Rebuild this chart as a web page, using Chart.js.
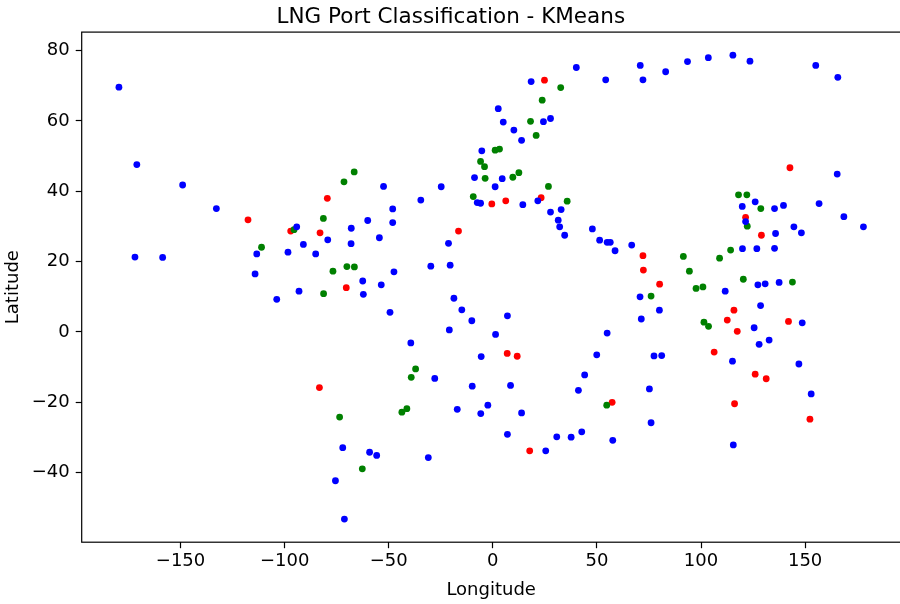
<!DOCTYPE html>
<html>
<head>
<meta charset="utf-8">
<script src="https://cdn.jsdelivr.net/npm/chart.js@4.4.1/dist/chart.umd.min.js"></script>
<style>
    html, body { margin: 0; padding: 0; background: #fff; overflow: hidden; }
    #chart { display: block; }
</style>
</head>
<body>
<canvas id="chart" width="904" height="604" style="width:904px;height:604px"></canvas>
<script>
// cluster 0 (blue)
const blueLon = [-179.6, -171.0, -149.0, -132.8, 40.1, 18.4, 54.2, 2.6, 5.0, 24.3, 27.7, 10.1, 13.8, -5.3, -8.8, 4.5, -52.5, -24.8, 1.1, -34.6,
    -7.5, -5.9, 14.4, 21.6, -48.1, 27.7, 32.8, 70.8, 72.1, 83.0, 93.5, 103.5, 115.3, 123.5, 155.1, 165.7, 165.4, 126.0, 119.8, 135.3,
    139.6, 156.7, -94.2, -68.0, -79.3, -68.1, -91.0, -113.4, -98.4, -85.1, -171.9, -158.6, -114.2, -93.1, -103.8, -48.1, -60.1, 31.4, 32.1, 34.5,
    -54.5, -21.3, 47.8, 51.3, 54.9, 56.4, 58.7, 66.7, -29.8, -20.5, -47.5, -62.5, -53.6, -62.2, -18.7, -14.9, -49.4, -10.1, 7.0, -20.9,
    1.3, 54.9, -39.4, -5.6, 49.9, 44.1, 168.6, 178.0, 121.4, 135.8, 144.6, 148.2, 119.9, 126.8, 135.3, 111.6, 127.3, 130.8, 137.5, 70.7,
    80.0, 128.6, 148.6, 71.3, 125.5, 132.7, 127.9, 77.4, 81.1, 115.1, 147.0, -72.1, -75.6, -71.3, -27.9, -9.9, 8.5, 41.1, -17.1, -5.8,
    -2.4, 13.8, 7.0, -59.2, -55.8, -31.0, 25.4, 30.7, 37.6, 42.7, 57.6, 75.2, 152.9, 76.0, 115.5];
const blueLat = [69.6, 47.6, 41.8, 35.1, 75.2, 71.2, 71.7, 63.5, 59.7, 59.8, 60.7, 57.4, 54.5, 51.5, 43.9, 43.6, 41.4, 41.3, 41.3, 37.5,
    36.8, 36.6, 36.2, 37.3, 35.0, 34.1, 34.8, 75.8, 71.7, 74.0, 76.9, 78.0, 78.7, 77.0, 75.8, 72.4, 44.9, 37.0, 35.7, 35.1,
    36.0, 36.5, 29.9, 29.5, 26.2, 25.1, 24.9, 22.2, 22.7, 22.2, 21.3, 21.2, 16.5, 11.6, 9.3, 31.1, 31.7, 31.8, 29.9, 27.5,
    26.8, 25.2, 29.3, 26.1, 25.5, 25.5, 23.1, 24.7, 18.7, 19.0, 17.1, 14.5, 13.4, 10.7, 9.6, 6.3, 5.6, 3.2, 4.6, 0.6,
    -0.7, -0.3, -3.1, -7.0, -6.5, -12.2, 32.8, 29.9, 31.4, 28.0, 29.9, 28.2, 23.7, 23.7, 23.8, 11.6, 13.4, 13.7, 14.1, 10.0,
    6.2, 7.5, 2.6, 3.7, 1.2, -2.3, -3.5, -6.8, -6.7, -8.3, -9.1, -32.9, -42.3, -53.2, -13.2, -15.4, -15.2, -16.6, -22.0, -23.2,
    -20.8, -23.0, -29.1, -34.2, -35.1, -35.7, -33.8, -29.8, -29.9, -28.4, -30.8, -16.2, -17.6, -25.8, -32.1];

// cluster 1 (green)
const greenLon = [-71.5, -66.6, 32.6, 23.7, 18.1, 20.8, 1.1, 3.2, -5.9, -4.0, -3.7, 9.6, 12.5, 26.7, -9.4, 35.7, 118.0, 122.0, 128.7, -81.4,
    -95.5, -111.1, -76.8, -70.1, -66.5, -81.3, 122.2, 114.2, 108.9, 91.5, 94.4, 97.6, 100.9, 120.3, 143.9, 76.0, 101.4, 103.6, -37.1, -39.2,
    54.7, -43.7, -41.3, -62.7, -73.6];
const greenLat = [42.7, 45.5, 69.5, 65.9, 59.9, 55.9, 51.7, 52.0, 48.5, 47.0, 43.7, 44.0, 45.3, 41.4, 38.5, 37.2, 39.0, 39.0, 35.1, 32.3,
    29.1, 24.1, 17.3, 18.6, 18.5, 10.9, 30.1, 23.3, 21.0, 21.5, 17.3, 12.4, 12.8, 15.0, 14.2, 10.2, 2.8, 1.6, -10.5, -12.9,
    -20.8, -22.8, -21.8, -38.9, -24.2];

// cluster 2 (red)
const redLon = [-79.5, 24.8, -0.5, 6.2, 23.2, 142.7, -117.6, -97.1, -83.0, -70.4, -16.5, 6.9, 11.7, 121.4, 129.0, 72.1, 72.3, 80.1, 115.8, 112.6,
    142.0, 117.4, 106.3, 126.0, 131.3, -83.3, 57.3, 17.7, 116.1, 152.3];
const redLat = [38.0, 71.6, 36.4, 37.3, 38.2, 46.7, 31.9, 28.7, 28.2, 12.6, 28.7, -6.1, -6.9, 32.6, 27.5, 21.7, 17.6, 13.6, 6.2, 3.4,
    3.0, 0.2, -5.7, -12.0, -13.3, -15.8, -20.0, -33.8, -20.4, -24.8];

const xTicks = [-150, -100, -50, 0, 50, 100, 150];
const yTicks = [-40, -20, 0, 20, 40, 60, 80];

function toPoints(lons, lats) {
    return lons.map((lon, i) => ({ x: lon, y: lats[i] }));
}

function fmt(v) {
    return v < 0 ? '\u2212' + Math.abs(v) : String(v);
}

const frame = {
    id: 'frame',
    afterDraw(chart) {
        const { ctx, chartArea: a } = chart;
        ctx.save();
        ctx.strokeStyle = '#000';
        ctx.lineWidth = 1.2;
        ctx.strokeRect(a.left, a.top, a.right - a.left, a.bottom - a.top);
        ctx.restore();
    }
};

Chart.defaults.font.family = '"DejaVu Sans", sans-serif';
Chart.defaults.color = '#000';

const dot = { pointRadius: 3.4, pointHoverRadius: 3.4, borderWidth: 0 };

new Chart(document.getElementById('chart'), {
    type: 'scatter',
    data: {
        datasets: [
            { data: toPoints(blueLon, blueLat), backgroundColor: '#0000ff', ...dot },
            { data: toPoints(greenLon, greenLat), backgroundColor: '#008000', ...dot },
            { data: toPoints(redLon, redLat), backgroundColor: '#ff0000', ...dot }
        ]
    },
    options: {
        responsive: false,
        animation: false,
        layout: { padding: { left: 0, right: 2.4, top: 0, bottom: 0 } },
        plugins: {
            legend: { display: false },
            tooltip: { enabled: false },
            title: {
                display: true,
                text: 'LNG Port Classification - KMeans',
                font: { size: 21.5, weight: 'normal' },
                padding: { top: 5, bottom: 1.3 }
            }
        },
        scales: {
            x: {
                type: 'linear',
                min: -197.48,
                max: 195.85,
                afterBuildTicks: s => { s.ticks = xTicks.map(v => ({ value: v })); },
                afterFit: s => { s.height = 61.8; },
                ticks: { font: { size: 18 }, padding: 2, callback: v => fmt(v) },
                grid: { drawOnChartArea: false, drawTicks: true, tickLength: 6, tickWidth: 1.2, tickColor: '#000' },
                border: { display: false },
                title: { display: true, text: 'Longitude', font: { size: 18 }, padding: { top: 3, bottom: 3 } }
            },
            y: {
                type: 'linear',
                min: -59.77,
                max: 85.27,
                afterBuildTicks: s => { s.ticks = yTicks.map(v => ({ value: v })); },
                afterFit: s => { s.width = 81.7; },
                ticks: { font: { size: 18 }, padding: 6, callback: v => fmt(v) },
                grid: { drawOnChartArea: false, drawTicks: true, tickLength: 6, tickWidth: 1.2, tickColor: '#000' },
                border: { display: false },
                title: { display: true, text: 'Latitude', font: { size: 18 }, padding: { top: 3, bottom: 3 } }
            }
        }
    },
    plugins: [frame]
});
</script>
</body>
</html>
